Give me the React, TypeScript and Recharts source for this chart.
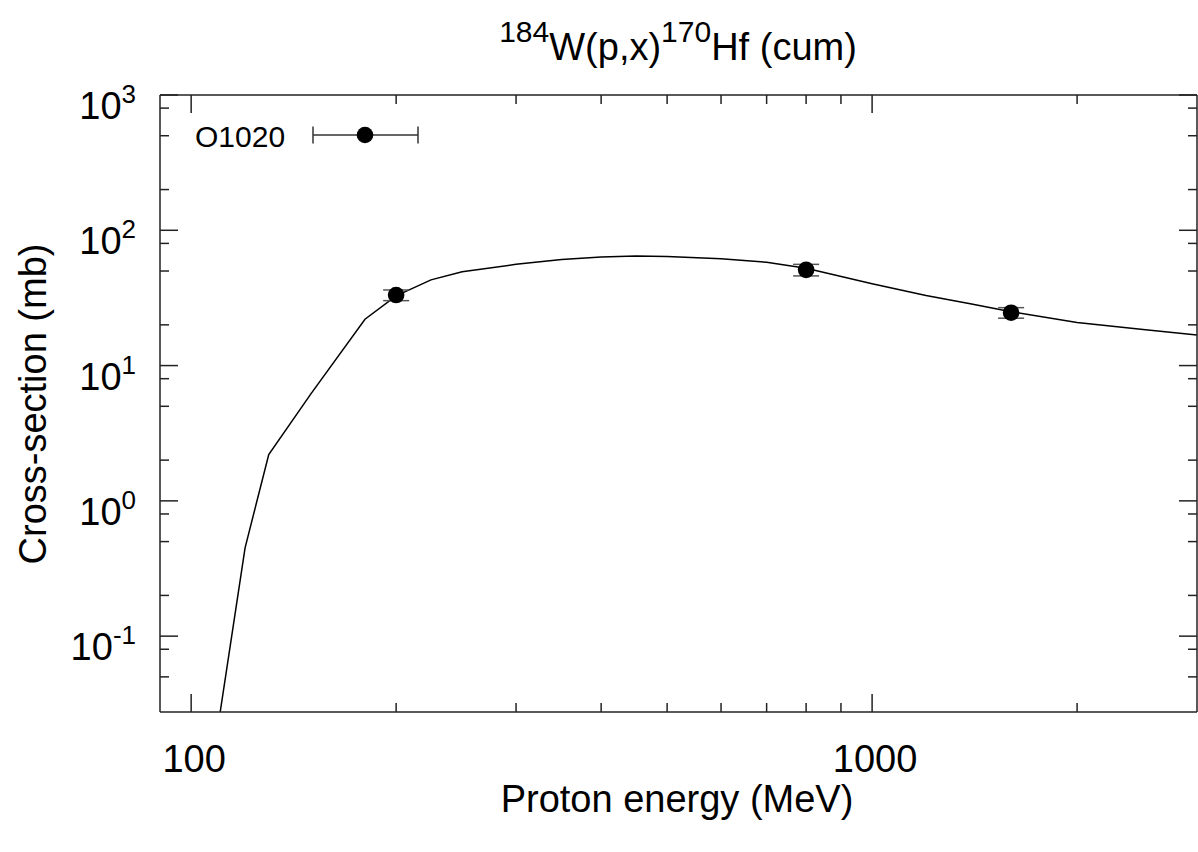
import React from "react";
import { ComposedChart, Line, Scatter, ErrorBar, XAxis, YAxis } from "recharts";

// model curve (TALYS-like), proton energy in MeV vs cross-section in mb
const modelEnergy = [110, 120, 130, 150, 180, 200, 225, 250, 300, 350, 400, 450, 500, 600, 700, 800, 1000, 1200, 1400, 1600, 2000, 2500, 3000];
const modelXs = [0.025, 0.45, 2.2, 6.2, 22, 32.8, 43, 49.4, 56, 60.8, 63.5, 64.5, 64, 61.7, 58, 52.5, 40.2, 33, 28.5, 25, 20.8, 18.5, 16.8];

// O1020 experimental points
const expEnergy = [200, 800, 1600];
const expXs = [33.2, 51, 24.6];
const expErr = [3, 5, 2.2];

const xTicks = [100, 200, 300, 400, 500, 600, 700, 800, 900, 1000, 2000];
const xMajor = [100, 1000];
const yTicks = [0.05, 0.08, 0.1, 0.2, 0.5, 0.8, 1, 2, 5, 8, 10, 20, 50, 80, 100, 200, 500, 800, 1000];
const yMajor = [0.1, 1, 10, 100, 1000];
const yExp: Record<number, string> = { 0.1: "-1", 1: "0", 10: "1", 100: "2", 1000: "3" };

const AXIS = "#222";
const FONT = "'Liberation Sans', Arial, Helvetica, sans-serif";

const modelData = modelEnergy.map((e, i) => ({ e, xs: modelXs[i] }));
const expData = expEnergy.map((e, i) => ({ e, xs: expXs[i], err: expErr[i] }));

const BottomTick = ({ x, y, payload }: any) => {
  const major = xMajor.includes(payload.value);
  return (
    <g>
      <line x1={x} x2={x} y1={y} y2={y - (major ? 18 : 9)} stroke={AXIS} strokeWidth={1.5} />
      {major && (
        <text x={x + 3} y={y + 60} textAnchor="middle" fontSize={38} fill="#000" fontFamily={FONT}>
          {payload.value}
        </text>
      )}
    </g>
  );
};

const TopTick = ({ x, y, payload }: any) => {
  const major = xMajor.includes(payload.value);
  return <line x1={x} x2={x} y1={y} y2={y + (major ? 18 : 9)} stroke={AXIS} strokeWidth={1.5} />;
};

const LeftTick = ({ x, y, payload }: any) => {
  const major = yMajor.includes(payload.value);
  return (
    <g>
      <line x1={x} x2={x + (major ? 18 : 9)} y1={y} y2={y} stroke={AXIS} strokeWidth={1.5} />
      {major && (
        <text x={x - 24} y={y + 24} textAnchor="end" fontSize={38} fill="#000" fontFamily={FONT}>
          <tspan>10</tspan>
          <tspan dy={-16} fontSize={26}>{yExp[payload.value]}</tspan>
        </text>
      )}
    </g>
  );
};

const RightTick = ({ x, y, payload }: any) => {
  const major = yMajor.includes(payload.value);
  return <line x1={x} x2={x - (major ? 18 : 9)} y1={y} y2={y} stroke={AXIS} strokeWidth={1.5} />;
};

const Dot = (p: any) => <circle cx={p.cx} cy={p.cy} r={8.3} fill="#000" />;

export default function App() {
  return (
    <div style={{ position: "absolute", left: 0, top: 0, width: 1198, height: 852, background: "#fff", fontFamily: FONT }}>
      <ComposedChart width={1198} height={852} margin={{ top: 0, right: 0, bottom: 0, left: 0 }}>
        <XAxis
          xAxisId={0}
          dataKey="e"
          type="number"
          scale="log"
          domain={[90, 3000]}
          allowDataOverflow
          orientation="bottom"
          height={140}
          ticks={xTicks}
          interval={0}
          tickSize={0}
          tickMargin={0}
          tick={<BottomTick />}
          axisLine={{ stroke: AXIS, strokeWidth: 1.5 }}
        />
        <XAxis
          xAxisId="top"
          dataKey="e"
          type="number"
          scale="log"
          domain={[90, 3000]}
          allowDataOverflow
          orientation="top"
          height={95}
          ticks={xTicks}
          interval={0}
          tickSize={0}
          tickMargin={0}
          tick={<TopTick />}
          axisLine={{ stroke: AXIS, strokeWidth: 1.5 }}
        />
        <YAxis
          yAxisId={0}
          type="number"
          scale="log"
          domain={[0.0275, 1000]}
          allowDataOverflow
          orientation="left"
          width={160}
          ticks={yTicks}
          interval={0}
          tickSize={0}
          tickMargin={0}
          tick={<LeftTick />}
          axisLine={{ stroke: AXIS, strokeWidth: 1.5 }}
        />
        <YAxis
          yAxisId="right"
          type="number"
          scale="log"
          domain={[0.0275, 1000]}
          allowDataOverflow
          orientation="right"
          width={1}
          ticks={yTicks}
          interval={0}
          tickSize={0}
          tickMargin={0}
          tick={<RightTick />}
          axisLine={{ stroke: AXIS, strokeWidth: 1.5 }}
        />
        <Line
          data={modelData}
          dataKey="xs"
          type="linear"
          stroke="#000"
          strokeWidth={1.5}
          dot={false}
          activeDot={false}
          isAnimationActive={false}
        />
        <Scatter data={expData} dataKey="xs" shape={<Dot />} isAnimationActive={false}>
          <ErrorBar dataKey="err" direction="y" width={13} stroke="#555" strokeWidth={1.5} isAnimationActive={false} />
        </Scatter>
      </ComposedChart>
      <svg
        width={1198}
        height={852}
        style={{ position: "absolute", left: 0, top: 0, pointerEvents: "none" }}
        fontFamily={FONT}
      >
        <text x={678} y={60} textAnchor="middle" fontSize={38} fill="#000">
          <tspan fontSize={30} dy={-18}>184</tspan>
          <tspan dy={18}>W(p,x)</tspan>
          <tspan fontSize={30} dy={-18}>170</tspan>
          <tspan dy={18}>Hf (cum)</tspan>
        </text>
        <text x={677} y={812} textAnchor="middle" fontSize={38} fill="#000">
          Proton energy (MeV)
        </text>
        <text
          x={0}
          y={0}
          transform="translate(46 404) rotate(-90)"
          textAnchor="middle"
          fontSize={38}
          fill="#000"
        >
          Cross-section (mb)
        </text>
        <text x={195} y={147} fontSize={30} fill="#000">O1020</text>
        <line x1={313} x2={418} y1={135} y2={135} stroke="#333" strokeWidth={1.5} />
        <line x1={313} x2={313} y1={126.5} y2={143.5} stroke="#333" strokeWidth={1.5} />
        <line x1={418} x2={418} y1={126.5} y2={143.5} stroke="#333" strokeWidth={1.5} />
        <circle cx={365} cy={135} r={8.3} fill="#000" />
      </svg>
    </div>
  );
}
